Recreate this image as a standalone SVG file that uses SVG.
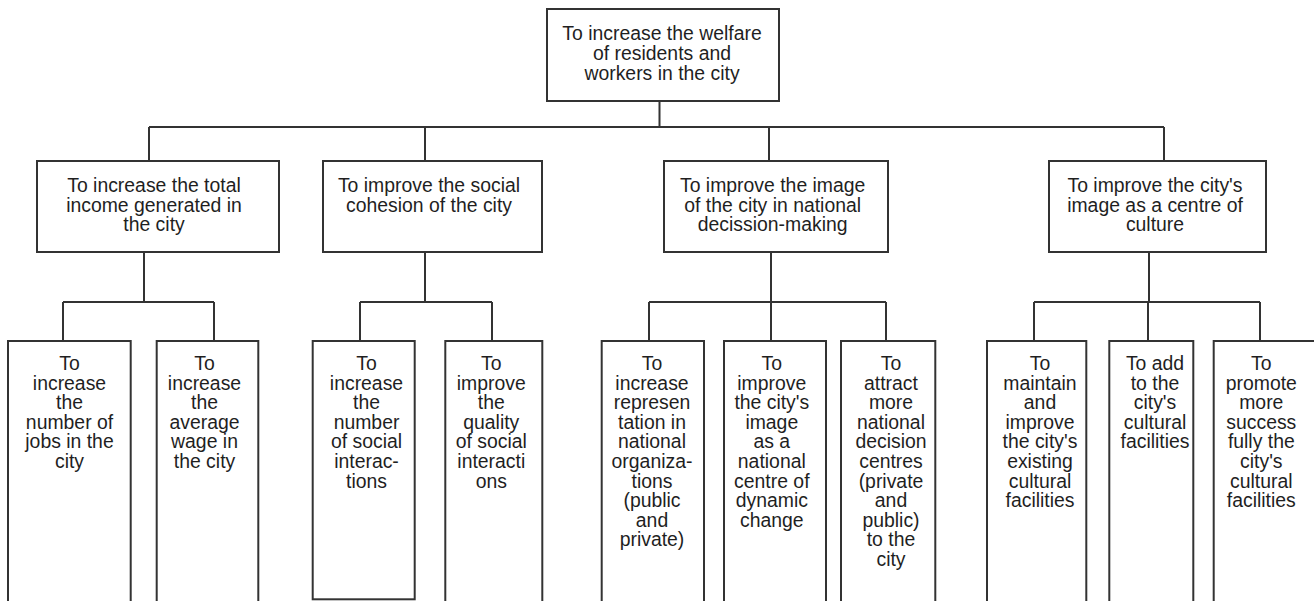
<svg xmlns="http://www.w3.org/2000/svg" width="1314" height="601" viewBox="0 0 1314 601">
<style>
.box{fill:#fff;stroke:#333;stroke-width:2}
.ln{stroke:#333;stroke-width:2;fill:none}
text{font-family:"Liberation Sans",Arial,sans-serif;font-size:19.4px;fill:#1f1f1f;text-anchor:middle}
</style>
<rect width="1314" height="601" fill="#fff"/>
<g id="connectors" class="ln">
<path d="M659.5,101V127M149,127H1164M149,127V161M425,127V161M769,127V161M1164,127V161"/>
<path d="M144,252V302M63,302H214M63,302V341M214,302V341"/>
<path d="M425,252V302M360,302H492M360,302V341M492,302V341"/>
<path d="M771,252V302M649,302H886M649,302V341M771,302V341M886,302V341"/>
<path d="M1149,252V302M1034,302H1260M1034,302V341M1148,302V341M1260,302V341"/>
</g>
<g id="root">
<rect class="box" x="547" y="9" width="232" height="92"/>
<text x="662" y="40">To increase the welfare</text>
<text x="662" y="60">of residents and</text>
<text x="662" y="80">workers in the city</text>
</g>
<g id="income">
<rect class="box" x="37" y="161" width="242" height="91"/>
<text x="154" y="192.2">To increase the total</text>
<text x="154" y="211.8">income generated in</text>
<text x="154" y="231.4">the city</text>
</g>
<g id="cohesion">
<rect class="box" x="323" y="161" width="219" height="91"/>
<text x="429" y="192.2">To improve the social</text>
<text x="429" y="211.8">cohesion of the city</text>
</g>
<g id="national">
<rect class="box" x="664" y="161" width="224" height="91"/>
<text x="772.7" y="192.2">To improve the image</text>
<text x="772.7" y="211.8">of the city in national</text>
<text x="772.7" y="231.4">decission-making</text>
</g>
<g id="culture">
<rect class="box" x="1049" y="161" width="217" height="91"/>
<text x="1155" y="192.2">To improve the city's</text>
<text x="1155" y="211.8">image as a centre of</text>
<text x="1155" y="231.4">culture</text>
</g>
<g id="jobs">
<rect class="box" x="8" y="341" width="122.7" height="275"/>
<text x="69.5" y="370">To</text>
<text x="69.5" y="389.6">increase</text>
<text x="69.5" y="409.2">the</text>
<text x="69.5" y="428.8">number of</text>
<text x="69.5" y="448.4">jobs in the</text>
<text x="69.5" y="468">city</text>
</g>
<g id="wage">
<rect class="box" x="156.7" y="341" width="101.6" height="275"/>
<text x="204.5" y="370">To</text>
<text x="204.5" y="389.6">increase</text>
<text x="204.5" y="409.2">the</text>
<text x="204.5" y="428.8">average</text>
<text x="204.5" y="448.4">wage in</text>
<text x="204.5" y="468">the city</text>
</g>
<g id="interactions-number">
<rect class="box" x="312.7" y="341" width="102" height="258.3"/>
<text x="366.5" y="370">To</text>
<text x="366.5" y="389.6">increase</text>
<text x="366.5" y="409.2">the</text>
<text x="366.5" y="428.8">number</text>
<text x="366.5" y="448.4">of social</text>
<text x="366.5" y="468">interac-</text>
<text x="366.5" y="487.6">tions</text>
</g>
<g id="interactions-quality">
<rect class="box" x="445.3" y="341" width="97" height="275"/>
<text x="491.3" y="370">To</text>
<text x="491.3" y="389.6">improve</text>
<text x="491.3" y="409.2">the</text>
<text x="491.3" y="428.8">quality</text>
<text x="491.3" y="448.4">of social</text>
<text x="491.3" y="468">interacti</text>
<text x="491.3" y="487.6">ons</text>
</g>
<g id="representation">
<rect class="box" x="601.7" y="341" width="102.3" height="275"/>
<text x="652" y="370">To</text>
<text x="652" y="389.6">increase</text>
<text x="652" y="409.2">represen</text>
<text x="652" y="428.8">tation in</text>
<text x="652" y="448.4">national</text>
<text x="652" y="468">organiza-</text>
<text x="652" y="487.6">tions</text>
<text x="652" y="507.2">(public</text>
<text x="652" y="526.8">and</text>
<text x="652" y="546.4">private)</text>
</g>
<g id="dynamic">
<rect class="box" x="724" y="341" width="102" height="275"/>
<text x="771.8" y="370">To</text>
<text x="771.8" y="389.6">improve</text>
<text x="771.8" y="409.2">the city's</text>
<text x="771.8" y="428.8">image</text>
<text x="771.8" y="448.4">as a</text>
<text x="771.8" y="468">national</text>
<text x="771.8" y="487.6">centre of</text>
<text x="771.8" y="507.2">dynamic</text>
<text x="771.8" y="526.8">change</text>
</g>
<g id="decision-centres">
<rect class="box" x="841" y="341" width="94.3" height="275"/>
<text x="891" y="370">To</text>
<text x="891" y="389.6">attract</text>
<text x="891" y="409.2">more</text>
<text x="891" y="428.8">national</text>
<text x="891" y="448.4">decision</text>
<text x="891" y="468">centres</text>
<text x="891" y="487.6">(private</text>
<text x="891" y="507.2">and</text>
<text x="891" y="526.8">public)</text>
<text x="891" y="546.4">to the</text>
<text x="891" y="566">city</text>
</g>
<g id="maintain">
<rect class="box" x="987" y="341" width="99.3" height="275"/>
<text x="1040" y="370">To</text>
<text x="1040" y="389.6">maintain</text>
<text x="1040" y="409.2">and</text>
<text x="1040" y="428.8">improve</text>
<text x="1040" y="448.4">the city's</text>
<text x="1040" y="468">existing</text>
<text x="1040" y="487.6">cultural</text>
<text x="1040" y="507.2">facilities</text>
</g>
<g id="add">
<rect class="box" x="1109.3" y="341" width="84" height="275"/>
<text x="1155" y="370">To add</text>
<text x="1155" y="389.6">to the</text>
<text x="1155" y="409.2">city's</text>
<text x="1155" y="428.8">cultural</text>
<text x="1155" y="448.4">facilities</text>
</g>
<g id="promote">
<rect class="box" x="1213.7" y="341" width="110" height="275"/>
<text x="1261.3" y="370">To</text>
<text x="1261.3" y="389.6">promote</text>
<text x="1261.3" y="409.2">more</text>
<text x="1261.3" y="428.8">success</text>
<text x="1261.3" y="448.4">fully the</text>
<text x="1261.3" y="468">city's</text>
<text x="1261.3" y="487.6">cultural</text>
<text x="1261.3" y="507.2">facilities</text>
</g>
</svg>
